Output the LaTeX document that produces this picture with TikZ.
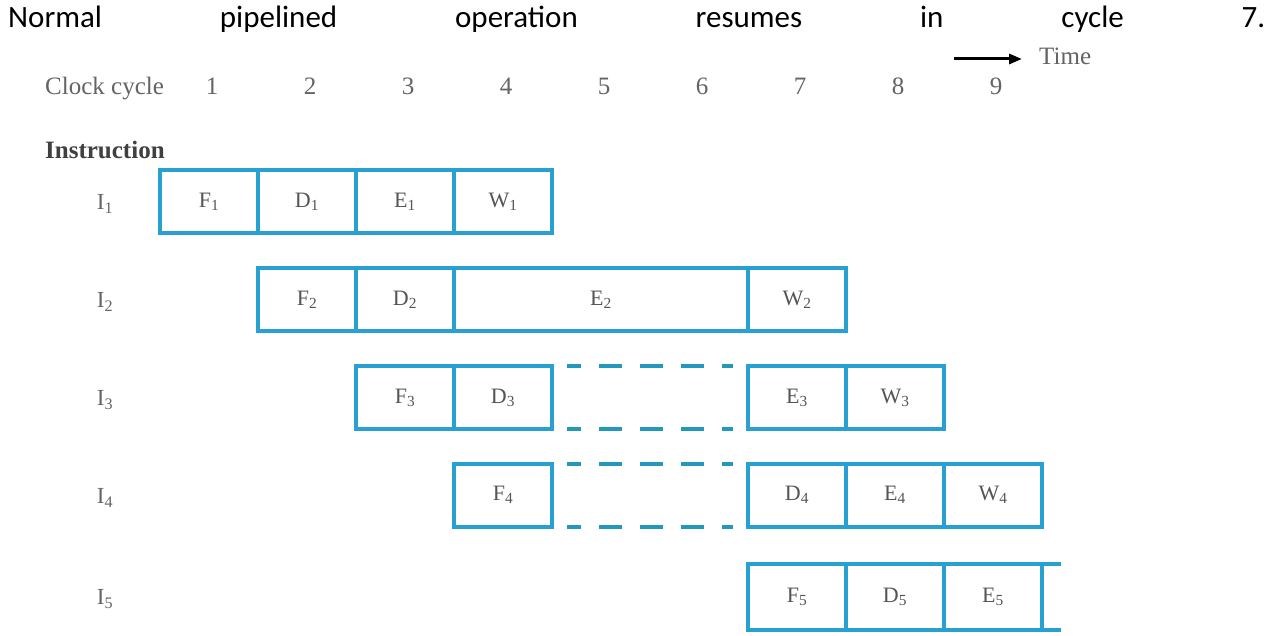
\documentclass[tikz,border=0pt]{standalone}
\usepackage{fontspec}
\setmainfont{Liberation Serif}
\newfontfamily\hdrfont{Carlito}
\usetikzlibrary{arrows.meta}
\definecolor{pipeblue}{RGB}{40,160,210}
\definecolor{dashblue}{RGB}{35,152,188}
\definecolor{txtgray}{RGB}{100,100,100}
\definecolor{celltxt}{RGB}{85,85,85}
\newcommand{\sbs}[2]{#1\textsubscript{#2}}
\begin{document}
\begin{tikzpicture}[x=1pt,y=-1pt,
  cell/.style={draw=pipeblue,line width=4pt,minimum height=63pt,minimum width=98pt,inner sep=0pt,outer sep=0pt,
    font=\fontsize{22}{24}\selectfont,text=celltxt},
  widecell/.style={cell,minimum width=294pt},
  stall/.style={draw=dashblue,line width=4pt,dash pattern=on 23pt off 18pt,dash phase=9pt,
    shorten <=15pt,shorten >=15pt},
  hdr/.style={font=\fontsize{25}{27}\selectfont,text=txtgray,inner sep=0pt,anchor=base},
  rowlab/.style={font=\fontsize{23}{25}\selectfont,text=txtgray,inner sep=0pt}]
\useasboundingbox (0,0) rectangle (1270,636);
\fill[white] (0,0) rectangle (1270,636);
% caption
\node[anchor=base west,inner sep=0pt,font=\hdrfont\fontsize{31}{34}\selectfont] (cap) at (8,28)
  {\hbox to 1257pt{Normal\hfill pipelined\hfill operation\hfill resumes\hfill in\hfill cycle\hfill 7.}};
% clock row
\node[hdr,anchor=base west] (clk) at (45,95) {Clock cycle};
\foreach \k in {1,...,9} {\node[hdr] (c\k) at ({114+98*\k},95) {\k};}
\node[hdr,anchor=base west] (time) at (1039,65) {Time};
\coordinate (tstart) at (954,59);
\draw[line width=3pt,-{Triangle[length=13pt,width=10pt]}] (tstart) -- ([xshift=-17pt]time.west |- tstart);
\node[anchor=base west,inner sep=0pt,font=\bfseries\fontsize{25}{27}\selectfont,text=black!75] (instr) at (45,159) {Instruction};
% row labels
\node[rowlab] (i1) at (105,204) {\sbs{I}{1}};
\node[rowlab] (i2) at (105,302) {\sbs{I}{2}};
\node[rowlab] (i3) at (105,400) {\sbs{I}{3}};
\node[rowlab] (i4) at (105,498) {\sbs{I}{4}};
\node[rowlab] (i5) at (105,599) {\sbs{I}{5}};
% I1
\node[cell] (F1) at (209,202) {\sbs{F}{1}};
\node[cell] (D1) at (307,202) {\sbs{D}{1}};
\node[cell] (E1) at (405,202) {\sbs{E}{1}};
\node[cell] (W1) at (503,202) {\sbs{W}{1}};
% I2
\node[cell] (F2) at (307,300) {\sbs{F}{2}};
\node[cell] (D2) at (405,300) {\sbs{D}{2}};
\node[widecell] (E2) at (601,300) {\sbs{E}{2}};
\node[cell] (W2) at (797,300) {\sbs{W}{2}};
% I3
\node[cell] (F3) at (405,398) {\sbs{F}{3}};
\node[cell] (D3) at (503,398) {\sbs{D}{3}};
\node[cell] (E3) at (797,398) {\sbs{E}{3}};
\node[cell] (W3) at (895,398) {\sbs{W}{3}};
\draw[stall] (D3.north east) -- (E3.north west);
\draw[stall] (D3.south east) -- (E3.south west);
% I4
\node[cell] (F4) at (503,495) {\sbs{F}{4}};
\node[cell] (D4) at (797,495) {\sbs{D}{4}};
\node[cell] (E4) at (895,495) {\sbs{E}{4}};
\node[cell] (W4) at (993,495) {\sbs{W}{4}};
\draw[stall] (F4.north east) -- (D4.north west);
\draw[stall] (F4.south east) -- (D4.south west);
% I5
\node[cell,minimum height=66pt] (F5) at (797,597) {\sbs{F}{5}};
\node[cell,minimum height=66pt] (D5) at (895,597) {\sbs{D}{5}};
\node[cell,minimum height=66pt] (E5) at (993,597) {\sbs{E}{5}};
\coordinate (x5t) at (1061,564);
\coordinate (x5b) at (1061,630);
\draw[pipeblue,line width=4pt] (E5.north east) -- (x5t);
\draw[pipeblue,line width=4pt] (E5.south east) -- (x5b);
\end{tikzpicture}
\end{document}
